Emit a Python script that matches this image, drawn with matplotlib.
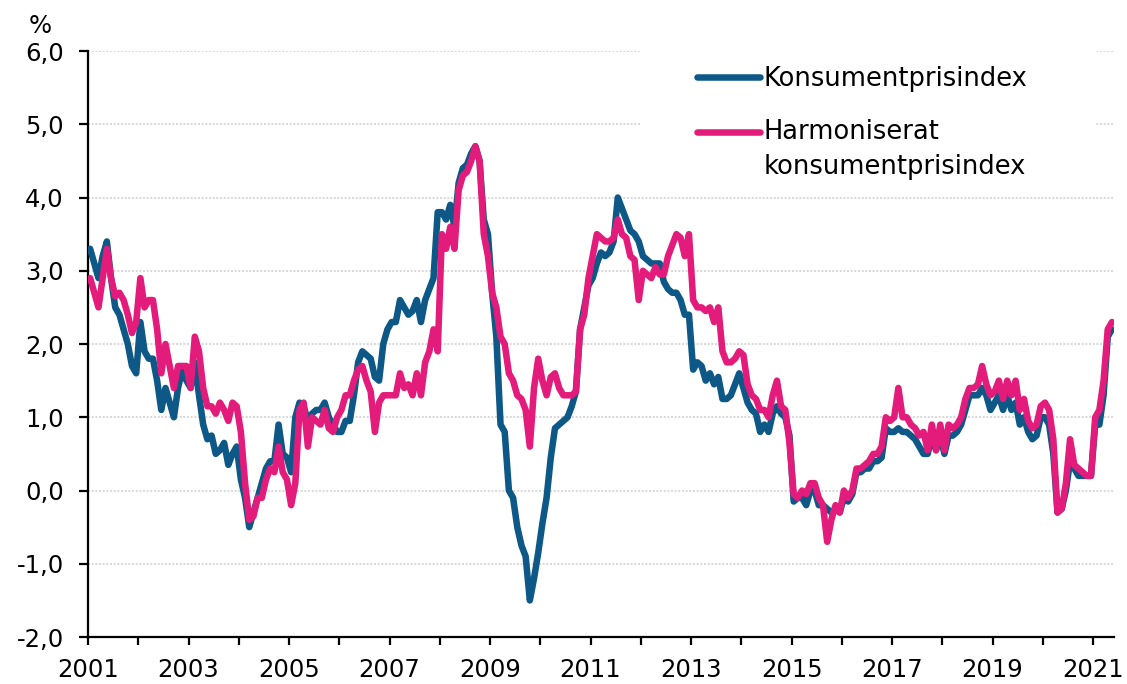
import numpy as np
import pandas as pd
import matplotlib
matplotlib.use("Agg")
import matplotlib.pyplot as plt
from matplotlib.ticker import FuncFormatter
from matplotlib.patches import Rectangle

# annual change, %, monthly from Jan 2001
kpi = [
    3.3, 3.1, 2.9, 3.2, 3.4, 2.9, 2.5, 2.4, 2.2, 2.0, 1.7, 1.6,          # 2001
    2.3, 1.9, 1.8, 1.8, 1.5, 1.1, 1.4, 1.2, 1.0, 1.4, 1.65, 1.5,        # 2002
    1.4, 1.75, 1.3, 0.9, 0.7, 0.75, 0.5, 0.55, 0.65, 0.35, 0.5, 0.6,    # 2003
    0.15, -0.1, -0.5, -0.3, -0.1, 0.1, 0.3, 0.4, 0.4, 0.9, 0.5, 0.45,   # 2004
    0.25, 1.0, 1.2, 1.15, 0.95, 1.05, 1.1, 1.1, 1.2, 1.0, 0.9, 0.8,     # 2005
    0.8, 0.95, 0.95, 1.3, 1.75, 1.9, 1.85, 1.8, 1.55, 1.5, 2.0, 2.2,    # 2006
    2.3, 2.3, 2.6, 2.5, 2.4, 2.45, 2.6, 2.3, 2.6, 2.75, 2.9, 3.8,       # 2007
    3.8, 3.7, 3.9, 3.6, 4.2, 4.4, 4.45, 4.6, 4.7, 4.5, 3.7, 3.5,        # 2008
    2.7, 2.1, 0.9, 0.8, 0.0, -0.1, -0.5, -0.75, -0.9, -1.5, -1.2, -0.85,  # 2009
    -0.45, -0.1, 0.45, 0.85, 0.9, 0.95, 1.0, 1.15, 1.35, 2.2, 2.5, 2.8,   # 2010
    2.9, 3.1, 3.25, 3.2, 3.25, 3.4, 4.0, 3.85, 3.7, 3.55, 3.5, 3.4,     # 2011
    3.2, 3.15, 3.1, 3.1, 3.1, 2.85, 2.75, 2.7, 2.7, 2.6, 2.4, 2.4,      # 2012
    1.65, 1.75, 1.7, 1.5, 1.6, 1.45, 1.55, 1.25, 1.25, 1.3, 1.45, 1.6,  # 2013
    1.4, 1.2, 1.1, 1.05, 0.8, 0.9, 0.8, 1.05, 1.15, 1.05, 1.0, 0.75,    # 2014
    -0.15, -0.1, -0.1, -0.2, 0.0, 0.0, -0.2, -0.2, -0.25, -0.3, -0.25, -0.3,  # 2015
    -0.1, -0.15, -0.05, 0.25, 0.25, 0.3, 0.3, 0.4, 0.4, 0.45, 0.85, 0.8,      # 2016
    0.8, 0.85, 0.8, 0.8, 0.75, 0.7, 0.6, 0.5, 0.5, 0.75, 0.55, 0.75,    # 2017
    0.5, 0.75, 0.75, 0.8, 0.9, 1.1, 1.3, 1.3, 1.3, 1.4, 1.3, 1.1,       # 2018
    1.2, 1.3, 1.1, 1.3, 1.1, 1.2, 0.9, 1.0, 0.8, 0.7, 0.75, 1.0,        # 2019
    1.0, 0.9, 0.5, -0.3, -0.25, 0.0, 0.4, 0.3, 0.2, 0.2, 0.2, 0.2,      # 2020
    0.9, 0.9, 1.3, 2.1, 2.2,                                            # 2021
]

hikp = [
    2.9, 2.7, 2.5, 2.9, 3.3, 2.9, 2.65, 2.7, 2.6, 2.4, 2.15, 2.3,       # 2001
    2.9, 2.5, 2.6, 2.6, 2.2, 1.6, 2.0, 1.7, 1.4, 1.7, 1.7, 1.7,         # 2002
    1.4, 2.1, 1.9, 1.4, 1.15, 1.15, 1.05, 1.2, 1.1, 0.95, 1.2, 1.15,    # 2003
    0.8, 0.1, -0.4, -0.35, -0.1, -0.1, 0.15, 0.3, 0.25, 0.6, 0.25, 0.15,  # 2004
    -0.2, 0.1, 1.1, 1.2, 0.6, 1.0, 0.95, 0.9, 1.1, 0.85, 0.8, 1.0,      # 2005
    1.1, 1.3, 1.3, 1.5, 1.65, 1.7, 1.5, 1.35, 0.8, 1.2, 1.3, 1.3,       # 2006
    1.3, 1.3, 1.6, 1.4, 1.45, 1.3, 1.6, 1.3, 1.75, 1.9, 2.2, 1.9,       # 2007
    3.5, 3.3, 3.6, 3.3, 4.1, 4.3, 4.35, 4.5, 4.7, 4.5, 3.5, 3.2,        # 2008
    2.7, 2.5, 2.1, 2.0, 1.6, 1.5, 1.3, 1.25, 1.1, 0.6, 1.4, 1.8,        # 2009
    1.5, 1.3, 1.55, 1.6, 1.4, 1.3, 1.3, 1.3, 1.35, 2.2, 2.4, 2.9,       # 2010
    3.2, 3.5, 3.45, 3.4, 3.4, 3.45, 3.7, 3.5, 3.45, 3.2, 3.15, 2.6,     # 2011
    3.0, 2.95, 2.9, 3.05, 2.95, 2.95, 3.2, 3.35, 3.5, 3.45, 3.2, 3.5,   # 2012
    2.6, 2.5, 2.5, 2.45, 2.5, 2.3, 2.5, 1.9, 1.75, 1.75, 1.8, 1.9,      # 2013
    1.85, 1.45, 1.3, 1.25, 1.1, 1.1, 1.0, 1.3, 1.5, 1.15, 1.1, 0.65,    # 2014
    -0.05, -0.1, 0.0, -0.05, 0.1, 0.1, -0.1, -0.2, -0.7, -0.4, -0.2, -0.3,  # 2015
    0.0, -0.1, 0.0, 0.3, 0.3, 0.35, 0.4, 0.5, 0.5, 0.6, 1.0, 0.95,      # 2016
    1.0, 1.4, 1.0, 1.0, 0.9, 0.85, 0.75, 0.8, 0.55, 0.9, 0.55, 0.9,     # 2017
    0.55, 0.9, 0.85, 0.9, 1.0, 1.25, 1.4, 1.4, 1.45, 1.7, 1.45, 1.3,    # 2018
    1.35, 1.5, 1.25, 1.5, 1.3, 1.5, 1.1, 1.25, 0.95, 0.85, 0.9, 1.15,   # 2019
    1.2, 1.1, 0.7, -0.3, -0.25, 0.1, 0.7, 0.35, 0.3, 0.25, 0.2, 0.2,    # 2020
    1.0, 1.1, 1.5, 2.2, 2.3,                                            # 2021
]

labels = ["Konsumentprisindex", "Harmoniserat\nkonsumentprisindex"]
colors = ["#0d5886", "#e31b7b"]
years = list(range(2001, 2022))
year_labels = [str(y) if (y - 2001) % 2 == 0 else "" for y in years]

dates = pd.date_range("2001-01-01", periods=len(kpi), freq="MS")
x = dates.year + (dates.month - 0.5) / 12

fs = 17.5
fig = plt.figure(figsize=(11.27, 6.84), dpi=100)
ax = fig.add_axes([0.0781, 0.0687, 0.9104, 0.8567])

ax.plot(x, kpi, color=colors[0], lw=4.7, solid_capstyle="round",
        solid_joinstyle="round", label=labels[0], zorder=3)
ax.plot(x, hikp, color=colors[1], lw=4.7, solid_capstyle="round",
        solid_joinstyle="round", label=labels[1], zorder=4)

ax.set_ylim(-2, 6)
ax.set_xlim(2001, 2001 + len(kpi) / 12)
ax.set_yticks(np.arange(-2, 6.1, 1))
ax.yaxis.set_major_formatter(FuncFormatter(lambda v, p: f"{v:.1f}".replace(".", ",")))
ax.set_xticks(years)
ax.set_xticklabels(year_labels)

ax.grid(axis="y", color="#d2d2d2", lw=1.2, ls=(0, (1.2, 1.0)), zorder=0)
ax.set_axisbelow(True)
for s in ["top", "right"]:
    ax.spines[s].set_visible(False)
for s in ["left", "bottom"]:
    ax.spines[s].set_linewidth(1.6)
ax.tick_params(axis="y", length=6.5, width=1.6, pad=11, labelsize=fs)
ax.tick_params(axis="x", length=6, width=1.6, pad=9, labelsize=fs)

# white area behind legend (hides gridlines there)
ax.add_patch(Rectangle((2012.0, 4.15), 9.05, 2.1, facecolor="white",
                       edgecolor="none", zorder=1, clip_on=False))

lfs = 18.5
leg = ax.legend(loc="upper left", bbox_to_anchor=(0.581, 0.997), frameon=False,
                fontsize=lfs, handlelength=2.45, handletextpad=0.15,
                labelspacing=1.05, borderpad=0)
leg.get_texts()[1].set_linespacing(1.45)
# align the pink key with the first line of its label
h = leg.legend_handles[1]
h.set_ydata(np.asarray(h.get_ydata()) + 0.72 * lfs)

fig.text(0.025, 0.98, "%", fontsize=fs, va="top", ha="left")

fig.savefig("out.png", dpi=100)
